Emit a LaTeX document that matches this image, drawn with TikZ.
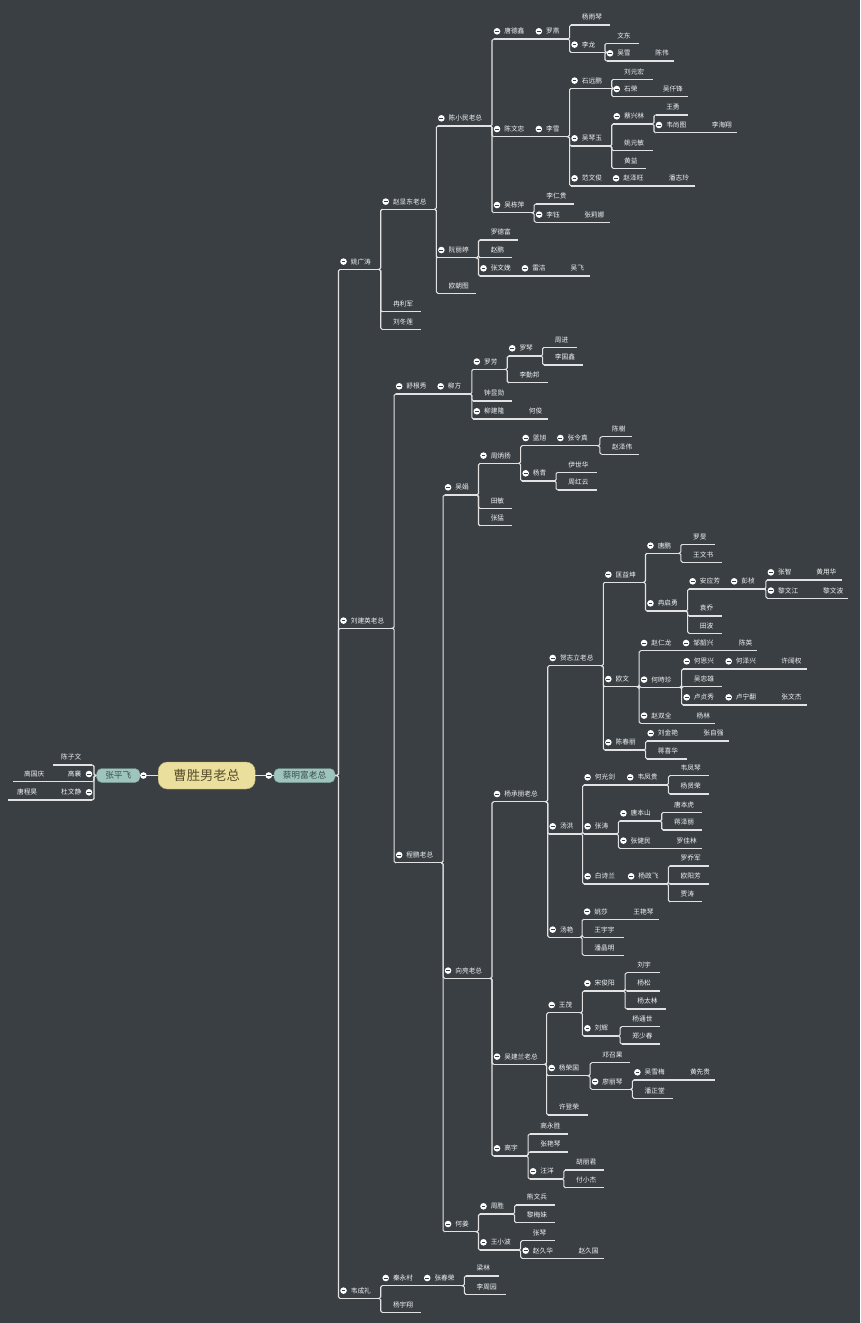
\documentclass[tikz,border=0pt]{standalone}
\usepackage{fontspec}
\newfontfamily\cjk{Noto Sans CJK SC}
\usetikzlibrary{calc}
\definecolor{bgc}{HTML}{393F43}
\definecolor{linec}{HTML}{E2E2E2}
\definecolor{txtc}{HTML}{F2F2F2}
\definecolor{rootc}{HTML}{EADF9C}
\definecolor{rootfg}{HTML}{5A5030}
\definecolor{boxc}{HTML}{9DC5BD}
\definecolor{boxfg}{HTML}{3E4E4B}

\begin{document}
\begin{tikzpicture}[x=1pt, y=-1pt,
  topic/.style={anchor=south west, inner sep=0pt, inner ysep=5pt, text height=6pt, text depth=0pt,
    text=txtc, font=\cjk\fontsize{6.7}{8}\selectfont},
  uline/.style={draw=linec, line width=1.1pt},
  link/.style={uline, rounded corners=1.5pt},
  box/.style={fill=boxc, draw=boxc!75!black, rounded corners=5pt, minimum height=14pt, inner sep=0pt,
    text=boxfg, font=\cjk\fontsize{8.7}{10}\selectfont},
  rootbox/.style={fill=rootc, draw=rootc!75!black, rounded corners=9pt, minimum width=97pt, minimum height=27pt,
    inner sep=0pt, text=rootfg, font=\cjk\fontsize{13.3}{15}\selectfont}]
\path[use as bounding box, fill=bgc] (0,0) rectangle (860,1323);

% centre
\node[rootbox] (root) at (206.7,775.5) {曹胜男老总};
\node[box, minimum width=61pt] (cai) at (304.5,775.5) {蔡明富老总};
\node[box, minimum width=43.3pt] (zpf) at (118.3,775.5) {张平飞};
\draw[uline] (root.east) -- (cai.west);
\draw[uline] (root.west) -- (zpf.east);
\coordinate (caifold) at ([xshift=-5pt]cai.west);
\coordinate (zpffold) at ([xshift=3.3pt]zpf.east);

% left branch
\foreach \nm/\xa/\xb/\yy/\txt in {czw/53/92/765/陈子文, ggq/13/55/781.7/高国庆, gx/55/92/781.7/高襄,
  tch/8/48/800/唐程昊, dwj/48/92/800/杜文静}{
  \pgfmathsetmacro\w{\xb-\xa}
  \node[topic] (\nm) at (\xa,\yy) {\makebox[\w pt][r]{\txt\hspace{11pt}}};
  \draw[uline] (\nm.south west) -- (\nm.south east);}
\foreach \c in {czw,gx,dwj}
  \draw[link] (zpf.west) -| ([xshift=1.6pt]\c.south east) -- (\c.south east);

% right tree
\begin{scope}[x=1.012pt, xshift=-3.96pt]
\foreach \nm/\xa/\xb/\yy/\txt in {
  ygt/340/378.3/269.3/姚广涛, zxd/381.7/432.7/209.3/赵显东老总, rlj/381.7/419.3/311.7/冉利军,
  ldl/381.7/419.3/329.3/刘冬莲, cxm/436.7/488.3/126/陈小民老总, rlt/436.7/475/257.7/阮丽婷,
  ozt/436.7/474/293.3/欧朝图, tdx/491.7/533/39/唐德鑫, luoy/533/565/39/罗燕,
  yyq/568.3/606/25/杨雨琴, lil/568.3/601.7/52.3/李龙, wdong/603.3/635/43.3/文东,
  wux/603.3/641/61/吴雪, chw/641/670/61/陈伟, cwz/491.7/533/136.7/陈文忠, lix/533/565/136.7/李雪,
  syp/568.3/608.3/88.3/石远鹏, lyh/610/648.3/79.3/刘元宏, shr/610/648.3/96.7/石荣,
  wqf/648.3/683.3/96.7/吴仟锋, wqy/568.3/606.7/146/吴琴玉, cxl/610/648/124/蔡兴林,
  wyong/651.7/683.3/115/王勇, wst/651.7/696.7/132.7/韦尚图, lhx/696.7/731.7/132.7/李海翔,
  yym/610/648.3/150.7/姚元敏, hyi/610/641.7/168.3/黄益, fwj/568.3/609.3/186/范文俊,
  zzwang/609.3/654.3/186/赵泽旺, pzl/654.3/690/186/潘志玲, wdp/491.7/531/212.7/吴栋萍,
  lrg/533.3/570.7/204/李仁贵, liyu/533.3/570.7/222.3/李钰, zln/570.7/606/222.3/张莉娜,
  ldf/478.3/515.7/240/罗德富, zpeng/478.3/509.3/257.7/赵鹏, zwm/478.3/519.3/276/张文娩,
  lei/519.3/557.3/276/雷洁, wfei/557.3/586.7/276/吴飞,
  ljy/340/390/628.3/刘建英老总, sgx/395/436/394/舒根秀, liuf/436/468.3/394/柳方,
  luof/471.7/503.3/369.3/罗芳, luoq/506.7/539.3/356/罗琴, zjin/541.7/574/347.3/周进,
  lgx/541.7/580/365/李国鑫, lqb/506.7/545/382.7/李勤邦, zyx/471.7/509.3/401/钟昱勋,
  ljl/471.7/516/419/柳建隆, hjun/516/545/419/何俊, cpeng/395/439.3/862.7/程鹏老总,
  wjuan/443.3/475/495/吴娟, zby/478.3/516.7/463.3/周炳扬, lanx/520/554.3/445.7/蓝旭,
  zlz/554.3/595/445.7/张令真, chs/598.3/628.3/436.7/陈樹, zzwei/598.3/635/454.3/赵泽伟,
  yqing/520/552.7/481/杨青, ysh/555/593.3/472.3/伊世华, zhy/555/593.3/490/周红云,
  tmin/478.3/509.3/508.3/田敏, zmeng/478.3/509.3/525.7/张猛,
  xl/443.3/487.3/978.3/向亮老总, ycl/491.7/543.3/801.7/杨承丽老总, hzl/546.7/598.3/665.7/贺志立老总,
  kyk/601.7/640/582.3/匡益坤, tpeng/643.3/675/553.3/唐鹏, lmin/678.3/710/544.3/罗旻,
  wws/678.3/716.7/562.3/王文书, rqy/643.3/681.7/611/冉启勇, ayf/685/726/589/安应芳,
  pzhen/726/760/589/彭桢, zzhi/762.3/800/580/张智, hyh/800/835.7/580/黄用华,
  lwj/762.3/806.7/598.3/黎文江, lwb/806.7/841.7/598.3/黎文波, yqiao/685/716.7/616/袁乔,
  tbo/685/716.7/633.3/田波, ouw/601.7/634.6/686.7/欧文, zrl/637/678.5/650.7/赵仁龙,
  zsx/678.5/723.6/650.7/邹韶兴, cying/723.6/751.6/650.7/陈英, hsz/637/676.5/687.3/何時珍,
  hsx/679.1/720.6/669/何思兴, hzx/720.6/765.5/669/何泽兴, xkq/765.5/801/669/许阔权,
  wzx/679.1/717.1/686.7/吴忠雄, lzx/679.1/720.6/705/卢贞秀, lnf/720.6/765.5/705/卢宁翻,
  zwjie/765.5/801/705/张文杰, zsq/637/681.8/723.3/赵双全, ylin/681.8/710.4/723.3/杨林,
  ccl/601.7/641.3/750/陈春丽, ljyan/643.5/688.4/741/刘金艳, zzq/688.4/723.6/741/张自强,
  jxh/643.5/682.5/759/蒋喜华, thong/546.7/578.3/834/汤洪, hgj/581.2/623.3/785/何光剑,
  wfg/623.3/663.7/785/韦凤贵, wfq/666/703.8/775.7/韦凤琴, yxr/666/703.8/794/杨贤荣,
  ztao/581.2/613.9/834/张涛, tbs/616.6/656.1/821/唐本山, tbh/659.4/697.3/812.3/唐本虎,
  jzl/659.4/697.3/830/蒋泽丽, zjm/616.6/662/848.3/张健民, ljlin/662/697.3/848.3/罗佳林,
  bsl/581.2/624.2/884/白诗兰, yzf/624.2/663.7/884/杨政飞, lqj/666/703.8/866/罗乔军,
  oyf/666/703.8/884/欧阳芳, jtao/666/697.3/901.7/贾涛, tyan/546.7/578.3/937.3/汤艳,
  ysha/580.7/619.3/919.3/姚莎, wyq/619.3/655/919.3/王艳琴, wyy/580.7/620/937.3/王宇宇,
  pjm/580.7/620/955.3/潘晶明, wjl/491.7/543.3/1064.3/吴建兰老总, wmao/545.7/578.7/1012.7/王茂,
  sjy/581/620.5/991/宋俊阳, lyu/623.2/655.4/972.7/刘宇, ysong/623.2/655.4/991/杨松,
  ytl/623.2/662/1009/杨太林, lhui/581/613.9/1036/刘辉, yts/618.2/656.1/1026.7/杨通世,
  zsc/618.2/656.1/1044/郑少春, yrg/545.7/586.2/1075.7/杨荣国, dzg/588.6/626.4/1062.7/邓召果,
  llq/588.6/628.1/1089.3/廖丽琴, wxm/630.4/675.2/1080/吴雪梅, hxg/675.2/710.4/1080/黄先贵,
  pzt/630.4/668.6/1098.3/潘正堂, xdr/545.7/584.2/1115/许登荣, gyu/491.7/523.3/1156/高宇,
  gys/527.3/565/1134/高永胜, zyq/527.3/565/1152/张艳琴, wyang/527.3/559.3/1179/汪洋,
  hlj/562.7/600/1170/胡丽君, fxj/562.7/600/1187.7/付小杰, hjiang/443.3/475/1231.7/何姜,
  zsheng/478.3/510/1214/周胜, xwb/514/551.7/1205/熊文兵, lmm/514/551.7/1222.7/黎梅妹,
  wxb/478.3/516.7/1250/王小波, zqin/520/551.7/1240.7/张琴, zjh/520/565/1258.3/赵久华,
  zjg/565/600/1258.3/赵久国, wcl/340/378.3/1298.3/韦成礼, qyc/381.7/422.7/1285.7/秦永村,
  zcr/422.7/461.7/1285.7/张春荣, llin/464.3/496.7/1276/梁林, lzy/464.3/503.3/1294.3/李周园,
  yyx/381.7/419.3/1312.3/杨宇翔}{
  \pgfmathsetmacro\w{(\xb-\xa)*1.012}
  \node[topic] (\nm) at (\xa,\yy) {\makebox[\w pt][l]{\hspace{10.5pt}\txt}};
  \draw[uline] (\nm.south west) -- (\nm.south east);}
\end{scope}

\foreach \c in {ygt,ljy,wcl}
  \draw[link] (cai.east) -| ([xshift=-1.6pt]\c.south west) -- (\c.south west);
\foreach \p/\c in {ygt/zxd, ygt/rlj, ygt/ldl, zxd/cxm, zxd/rlt, zxd/ozt, cxm/tdx, cxm/cwz, cxm/wdp,
  luoy/yyq, luoy/lil, lil/wdong, lil/wux, lix/syp, lix/wqy, lix/fwj, syp/lyh, syp/shr,
  wqy/cxl, wqy/yym, wqy/hyi, cxl/wyong, cxl/wst, wdp/lrg, wdp/liyu, rlt/ldf, rlt/zpeng, rlt/zwm,
  ljy/sgx, ljy/cpeng, liuf/luof, liuf/zyx, liuf/ljl, luof/luoq, luof/lqb, luoq/zjin, luoq/lgx,
  cpeng/wjuan, cpeng/xl, cpeng/hjiang, wjuan/zby, wjuan/tmin, wjuan/zmeng, zby/lanx, zby/yqing,
  zlz/chs, zlz/zzwei, yqing/ysh, yqing/zhy, xl/ycl, xl/wjl, xl/gyu, ycl/hzl, ycl/thong, ycl/tyan,
  hzl/kyk, hzl/ouw, hzl/ccl, kyk/tpeng, kyk/rqy, tpeng/lmin, tpeng/wws, rqy/ayf, rqy/yqiao, rqy/tbo,
  pzhen/zzhi, pzhen/lwj, ouw/zrl, ouw/hsz, ouw/zsq, hsz/hsx, hsz/wzx, hsz/lzx, ccl/ljyan, ccl/jxh,
  thong/hgj, thong/ztao, thong/bsl, wfg/wfq, wfg/yxr, ztao/tbs, ztao/zjm, tbs/tbh, tbs/jzl,
  yzf/lqj, yzf/oyf, yzf/jtao, tyan/ysha, tyan/wyy, tyan/pjm, wjl/wmao, wjl/yrg, wjl/xdr,
  wmao/sjy, wmao/lhui, sjy/lyu, sjy/ysong, sjy/ytl, lhui/yts, lhui/zsc, yrg/dzg, yrg/llq,
  llq/wxm, llq/pzt, gyu/gys, gyu/zyq, gyu/wyang, wyang/hlj, wyang/fxj, hjiang/zsheng, hjiang/wxb,
  zsheng/xwb, zsheng/lmm, wxb/zqin, wxb/zjh, wcl/qyc, wcl/yyx, zcr/llin, zcr/lzy}
  \draw[link] (\p.south east) -| ([xshift=-1.6pt]\c.south west) -- (\c.south west);

% fold marks
\foreach \nm in {ygt, zxd, cxm, rlt, tdx, luoy, lil, wux, cwz, lix, syp, shr, wqy, cxl, wst, fwj, zzwang,
  wdp, liyu, zwm, lei, ljy, sgx, liuf, luof, luoq, ljl, cpeng, wjuan, zby, lanx, zlz, yqing, xl, ycl,
  hzl, kyk, tpeng, rqy, ayf, pzhen, zzhi, lwj, ouw, zrl, zsx, hsz, hsx, hzx, lzx, lnf, zsq, ccl, ljyan,
  thong, hgj, wfg, ztao, tbs, zjm, bsl, yzf, tyan, ysha, wjl, wmao, sjy, lhui, yrg, llq, wxm, gyu,
  wyang, hjiang, zsheng, wxb, zjh, wcl, qyc, zcr}{
  \coordinate (fc) at ($(\nm.south west)+(3.4,-7.7)$);
  \fill[white] (fc) circle (3.3pt);
  \draw[bgc, line width=0.8pt] (fc) +(-1.9,0) -- +(1.9,0);}
\foreach \nm in {gx, dwj}{
  \coordinate (fc) at ($(\nm.south east)+(-3.4,-7.7)$);
  \fill[white] (fc) circle (3.3pt);
  \draw[bgc, line width=0.8pt] (fc) +(-1.9,0) -- +(1.9,0);}
\foreach \fc in {caifold, zpffold}{
  \fill[white] (\fc) circle (3.3pt);
  \draw[bgc, line width=0.8pt] (\fc) +(-1.9,0) -- +(1.9,0);}
\end{tikzpicture}
\end{document}
